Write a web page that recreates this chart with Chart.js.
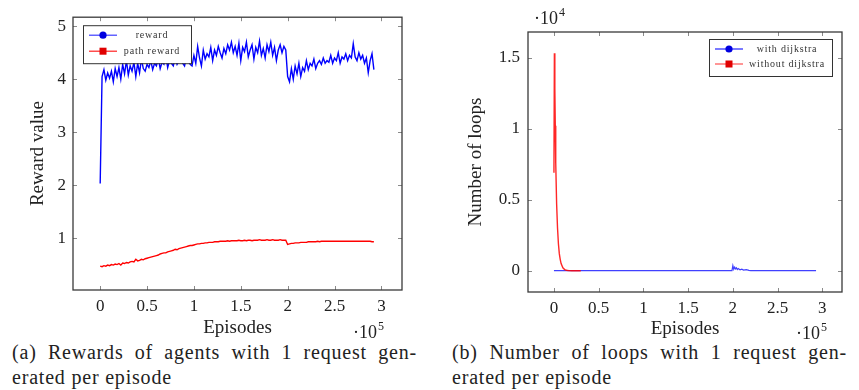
<!DOCTYPE html>
<html>
<head>
<meta charset="utf-8">
<script src="https://cdn.jsdelivr.net/npm/chart.js@4"></script>
<style>
  body { margin: 0; background: #fff; width: 859px; height: 390px; overflow: hidden; position: relative; font-family: "Liberation Serif", serif; color: #222; }
  canvas { position: absolute; top: 0; }
  #left { left: 0; }
  #right { left: 430px; }
  .cap { position: absolute; font-size: 20px; line-height: 25px; letter-spacing: 0.8px; white-space: nowrap; }
  .just { text-align: justify; text-align-last: justify; white-space: normal; }
</style>
</head>
<body>
<canvas id="left" width="430" height="340"></canvas>
<canvas id="right" width="429" height="340"></canvas>
<div class="cap just" style="left:12px; top:340px; width:405px;">(a) Rewards of agents with 1 request gen-</div>
<div class="cap" style="left:12px; top:365px;">erated per episode</div>
<div class="cap just" style="left:452px; top:340px; width:395px;">(b) Number of loops with 1 request gen-</div>
<div class="cap" style="left:452px; top:365px;">erated per episode</div>
<script>
// (a) rewards, sampled every 2000 episodes
const rewardStep = 2000;
const rewardValues = [
  2.03, 4.05, 4.18, 3.98, 4.12, 4.02, 4.15, 3.95, 4.20, 4.05,
  4.22, 4.00, 4.28, 4.10, 4.35, 4.08, 4.25, 4.15, 4.32, 4.05,
  4.30, 4.12, 4.38, 4.20, 4.15, 4.28, 4.22, 4.35, 4.18, 4.30,
  4.25, 4.40, 4.20, 4.32, 4.28, 4.45, 4.22, 4.35, 4.30, 4.25,
  4.40, 4.28, 4.35, 4.45, 4.30, 4.25, 4.42, 4.35, 4.28, 4.25,
  4.45, 4.30, 4.62, 4.40, 4.25, 4.55, 4.38, 4.48, 4.42, 4.60,
  4.35, 4.55, 4.45, 4.62, 4.50, 4.40, 4.58, 4.48, 4.65, 4.55,
  4.70, 4.50, 4.62, 4.45, 4.68, 4.35, 4.60, 4.52, 4.70, 4.42,
  4.55, 4.65, 4.38, 4.60, 4.50, 4.72, 4.45, 4.58, 4.40, 4.65,
  4.52, 4.70, 4.45, 4.60, 4.35, 4.55, 4.65, 4.50, 4.62, 4.55,
  4.05, 3.95, 4.20, 4.00, 4.25, 4.10, 4.30, 4.05, 4.22, 4.15,
  4.35, 4.18, 4.30, 4.25, 4.38, 4.20, 4.30, 4.35, 4.28, 4.40,
  4.30, 4.35, 4.32, 4.45, 4.30, 4.40, 4.35, 4.50, 4.30, 4.42,
  4.38, 4.48, 4.35, 4.45, 4.40, 4.67, 4.42, 4.35, 4.50, 4.38,
  4.45, 4.30, 4.40, 4.12, 4.35, 4.48, 4.18
];
const pathRewardValues = [
  0.47, 0.46, 0.48, 0.47, 0.49, 0.48, 0.50, 0.49, 0.51, 0.50,
  0.52, 0.49, 0.53, 0.52, 0.54, 0.53, 0.55, 0.56, 0.55, 0.60,
  0.57, 0.58, 0.60, 0.59, 0.61, 0.62, 0.63, 0.64, 0.65, 0.66,
  0.67, 0.68, 0.70, 0.71, 0.72, 0.72, 0.74, 0.75, 0.76, 0.77,
  0.79, 0.78, 0.80, 0.81, 0.82, 0.83, 0.84, 0.85, 0.86, 0.86,
  0.87, 0.88, 0.89, 0.89, 0.90, 0.90, 0.91, 0.91, 0.92, 0.92,
  0.92, 0.93, 0.93, 0.93, 0.94, 0.94, 0.94, 0.94, 0.95, 0.94,
  0.95, 0.95, 0.95, 0.95, 0.96, 0.95, 0.95, 0.96, 0.95, 0.96,
  0.96, 0.95, 0.96, 0.96, 0.96, 0.97, 0.96, 0.96, 0.96, 0.97,
  0.96, 0.96, 0.97, 0.96, 0.96, 0.96, 0.97, 0.96, 0.96, 0.96,
  0.88, 0.89, 0.90, 0.90, 0.91, 0.91, 0.91, 0.92, 0.92, 0.92,
  0.92, 0.93, 0.93, 0.93, 0.93, 0.93, 0.94, 0.93, 0.94, 0.94,
  0.94, 0.94, 0.94, 0.94, 0.94, 0.94, 0.94, 0.94, 0.94, 0.94,
  0.94, 0.94, 0.94, 0.94, 0.94, 0.94, 0.94, 0.94, 0.94, 0.94,
  0.94, 0.94, 0.94, 0.94, 0.94, 0.93, 0.93
];

// (b) number of loops
const withDijkstraEpisodes = [0, 100000, 199000, 200000, 201000, 202000, 203000, 204000, 205000, 206000, 208000, 210000, 212000, 215000, 218000, 220000, 293000];
const withDijkstraLoops    = [0, 0, 0, 350, 100, 250, 120, 200, 80, 150, 60, 110, 40, 70, 20, 0, 0];
const noDijkstraEpisodes = [0, 500, 1000, 1500, 2000, 3000, 4000, 5000, 6000, 7000, 8000, 10000, 12000, 14000, 16000, 20000, 25000, 30000];
const noDijkstraLoops    = [6900, 15300, 12800, 10200, 7600, 4700, 3000, 1900, 1200, 800, 500, 200, 80, 30, 10, 0, 0, 0];

const episodeTicks = [0, 50000, 100000, 150000, 200000, 250000, 300000];
const rewardTicks = [1, 2, 3, 4, 5];
const loopTicks = [0, 5000, 10000, 15000];

const serif = '"Liberation Serif"';
Chart.defaults.font.family = serif;
Chart.defaults.color = "#222";

const rewardPoints = rewardValues.map((v, i) => ({ x: i * rewardStep, y: v }));
const pathRewardPoints = pathRewardValues.map((v, i) => ({ x: i * rewardStep, y: v }));
const pair = (xs, ys) => xs.map((x, i) => ({ x: x, y: ys[i] }));

// frame + inward tick marks on all four sides, plus the ·10^n multipliers
const frame = {
  id: 'frame',
  afterDatasetsDraw(chart, args, opts) {
    const { ctx, chartArea: a, scales } = chart;
    ctx.save();
    ctx.strokeStyle = '#8a8a8a';
    ctx.lineWidth = 1;
    ctx.beginPath();
    scales.x.ticks.forEach(t => {
      const px = Math.round(scales.x.getPixelForValue(t.value)) + 0.5;
      ctx.moveTo(px, a.bottom); ctx.lineTo(px, a.bottom - 4);
      ctx.moveTo(px, a.top); ctx.lineTo(px, a.top + 4);
    });
    scales.y.ticks.forEach(t => {
      const py = Math.round(scales.y.getPixelForValue(t.value)) + 0.5;
      ctx.moveTo(a.left, py); ctx.lineTo(a.left + 4, py);
      ctx.moveTo(a.right, py); ctx.lineTo(a.right - 4, py);
    });
    ctx.stroke();
    ctx.strokeStyle = '#3a3a3a';
    ctx.lineWidth = 1.3;
    ctx.strokeRect(a.left, a.top, a.right - a.left, a.bottom - a.top);
    ctx.fillStyle = '#222';
    ctx.textBaseline = 'middle';
    (opts.mult || []).forEach(m => {
      const x = m.from === 'right' ? a.right + m.dx : a.left + m.dx;
      ctx.font = '18px ' + serif;
      ctx.fillText('\u00b710', x, m.y);
      const w = ctx.measureText('\u00b710').width;
      ctx.font = '12px ' + serif;
      ctx.fillText(m.exp, x + w + 1, m.y - 6);
    });
    ctx.restore();
  }
};

// pgfplots-like legend box
const boxLegend = {
  id: 'boxLegend',
  afterDatasetsDraw(chart, args, opts) {
    if (!opts.items) return;
    const { ctx, chartArea: a } = chart;
    const x = opts.from === 'right' ? a.right - opts.dx - opts.width : a.left + opts.dx;
    const y = a.top + opts.dy;
    ctx.save();
    ctx.fillStyle = '#fff';
    ctx.fillRect(x, y, opts.width, opts.height);
    ctx.strokeStyle = '#333';
    ctx.lineWidth = 1;
    ctx.strokeRect(x + 0.5, y + 0.5, opts.width, opts.height);
    opts.items.forEach((it, i) => {
      const ry = y + opts.firstRow + i * opts.rowGap;
      ctx.strokeStyle = it.color;
      ctx.lineWidth = 1.2;
      ctx.beginPath();
      ctx.moveTo(x + 6, ry); ctx.lineTo(x + 34, ry);
      ctx.stroke();
      ctx.fillStyle = it.marker;
      if (it.shape === 'circle') {
        ctx.beginPath(); ctx.arc(x + 20, ry, 3.6, 0, Math.PI * 2); ctx.fill();
      } else {
        ctx.fillRect(x + 16.5, ry - 3.5, 7, 7);
      }
      ctx.fillStyle = '#333';
      ctx.font = '10px ' + serif;
      ctx.letterSpacing = '0.8px';
      ctx.textAlign = 'center';
      ctx.textBaseline = 'middle';
      ctx.fillText(it.label, x + opts.textX, ry);
    });
    ctx.restore();
  }
};

function axisX(ticks, titlePad) {
  return {
    type: 'linear', min: -29000, max: 322000,
    afterBuildTicks: s => { s.ticks = ticks.map(v => ({ value: v })); },
    afterFit: s => { s.height = titlePad.h; },
    grid: { display: false, drawTicks: false },
    border: { display: false },
    ticks: { padding: 6, font: { size: 17 }, callback: v => String(v / 100000) },
    title: { display: true, text: 'Episodes', font: { size: 19 }, padding: { top: 0, bottom: titlePad.b } }
  };
}

new Chart(document.getElementById('left'), {
  type: 'line',
  data: {
    datasets: [
      { label: 'reward', data: rewardPoints, borderColor: '#0000ff', borderWidth: 1.4, pointRadius: 0, tension: 0 },
      { label: 'path reward', data: pathRewardPoints, borderColor: '#ff0000', borderWidth: 1.4, pointRadius: 0, tension: 0 }
    ]
  },
  options: {
    responsive: false, animation: false,
    layout: { padding: { left: 0, top: 17, right: 28, bottom: 0 } },
    plugins: {
      legend: { display: false }, tooltip: { enabled: false },
      boxLegend: {
        from: 'left', dx: 10, dy: 8, width: 108, height: 38, firstRow: 10, rowGap: 16, textX: 69,
        items: [
          { label: 'reward', color: '#3b3bff', marker: '#0000e0', shape: 'circle' },
          { label: 'path reward', color: '#ff2020', marker: '#e00000', shape: 'square' }
        ]
      },
      frame: { mult: [{ from: 'right', dx: -49, y: 333, exp: '5' }] }
    },
    scales: {
      x: axisX(episodeTicks, { h: 50, b: 1 }),
      y: {
        min: 0.02, max: 5.17,
        afterBuildTicks: s => { s.ticks = rewardTicks.map(v => ({ value: v })); },
        afterFit: s => { s.width = 73; },
        grid: { display: false, drawTicks: false },
        border: { display: false },
        ticks: { padding: 7, font: { size: 17 } },
        title: { display: true, text: 'Reward value', font: { size: 19 }, padding: { top: 27, bottom: 0 } }
      }
    }
  },
  plugins: [frame, boxLegend]
});

new Chart(document.getElementById('right'), {
  type: 'line',
  data: {
    datasets: [
      { label: 'with dijkstra', data: pair(withDijkstraEpisodes, withDijkstraLoops), borderColor: 'rgba(0,0,255,0.75)', borderWidth: 1.2, pointRadius: 0, tension: 0, order: 1 },
      { label: 'without dijkstra', data: pair(noDijkstraEpisodes, noDijkstraLoops), borderColor: 'rgba(255,0,0,0.85)', borderWidth: 1.4, pointRadius: 0, tension: 0, order: 0 }
    ]
  },
  options: {
    responsive: false, animation: false,
    layout: { padding: { left: 0, top: 32, right: 17, bottom: 0 } },
    plugins: {
      legend: { display: false }, tooltip: { enabled: false },
      boxLegend: {
        from: 'right', dx: 10, dy: 7, width: 123, height: 37, firstRow: 10, rowGap: 15, textX: 78,
        items: [
          { label: 'with dijkstra', color: '#2020ff', marker: '#0000e0', shape: 'circle' },
          { label: 'without dijkstra', color: '#ff5050', marker: '#e00000', shape: 'square' }
        ]
      },
      frame: { mult: [{ from: 'right', dx: -46, y: 334, exp: '5' }, { from: 'left', dx: 6, y: 19, exp: '4' }] }
    },
    scales: {
      x: axisX(episodeTicks, { h: 48, b: 0 }),
      y: {
        min: -1500, max: 16800,
        afterBuildTicks: s => { s.ticks = loopTicks.map(v => ({ value: v })); },
        afterFit: s => { s.width = 98; },
        grid: { display: false, drawTicks: false },
        border: { display: false },
        ticks: { padding: 8, font: { size: 17 }, callback: v => String(v / 10000) },
        title: { display: true, text: 'Number of loops', font: { size: 19 }, padding: { top: 35, bottom: 0 } }
      }
    }
  },
  plugins: [frame, boxLegend]
});
</script>
</body>
</html>
